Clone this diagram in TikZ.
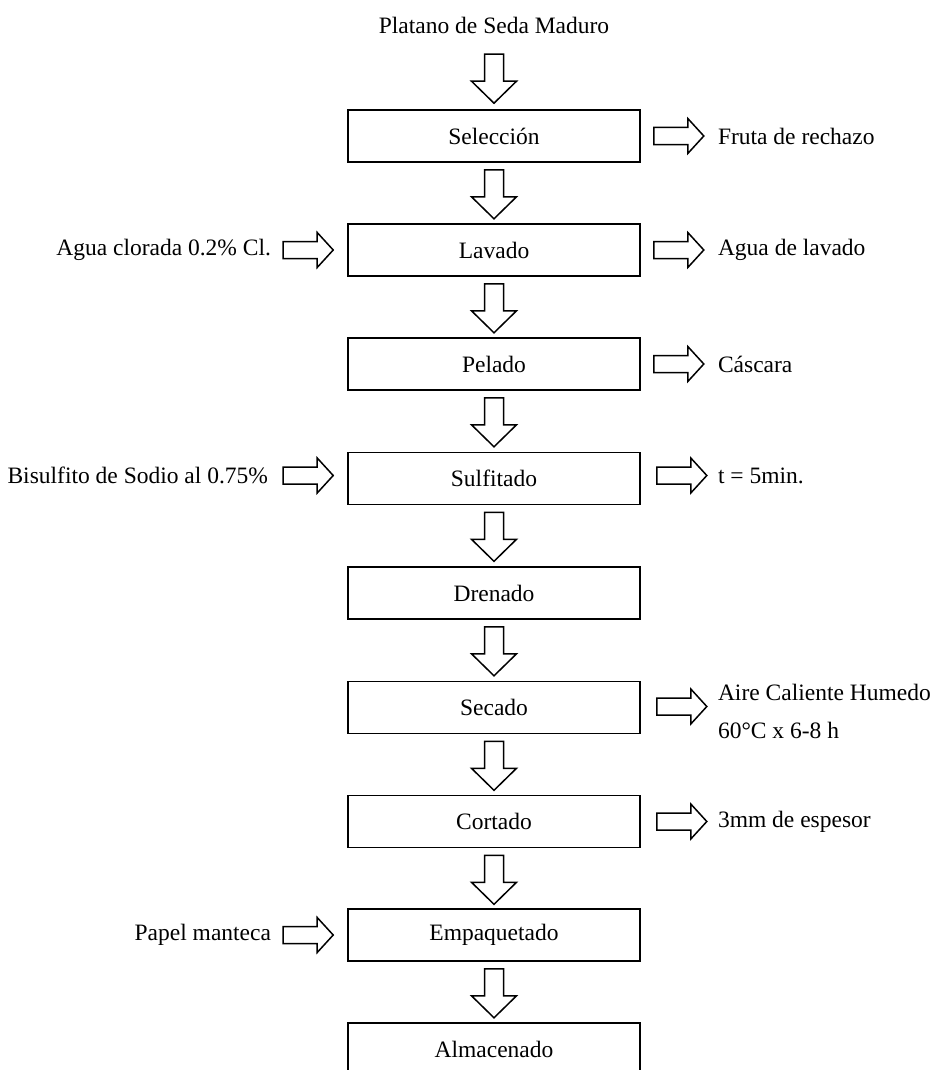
\documentclass[tikz,border=0pt]{standalone}
\usepackage{fontspec}
\setmainfont{Liberation Serif}
\usetikzlibrary{calc}
\begin{document}
\begin{tikzpicture}[x=1pt,y=-1pt,
  stepbox/.style={draw,line width=1.6pt,minimum width=292pt,minimum height=52pt,inner sep=0pt,font=\fontsize{23.5}{28}\selectfont},
  lbl/.style={inner sep=0pt,font=\fontsize{23.5}{28}\selectfont},
  blk/.style={draw,line width=1.5pt,fill=white,line join=miter},
  downarr/.pic={\draw[blk] (-9.5,0) -- (-9.5,27) -- (-22.5,27) -- (0,49) -- (22.5,27) -- (9.5,27) -- (9.5,0) -- cycle;},
  rightarr/.pic={\draw[blk] (0,-8.5) -- (34,-8.5) -- (34,-17.5) -- (50,0) -- (34,17.5) -- (34,8.5) -- (0,8.5) -- cycle;}]
\useasboundingbox (0,0) rectangle (931,1070);
\clip (0,0) rectangle (931,1070);

\node[lbl] (title) at (494,25) {Platano de Seda Maduro};
\node[stepbox] (sel) at (494,136) {Selección};
\node[stepbox] (lav) at (494,250) {Lavado};
\node[stepbox] (pel) at (494,364) {Pelado};
\node[stepbox] (sul) at (494,478.5) {Sulfitado};
\node[stepbox] (dre) at (494,593) {Drenado};
\node[stepbox] (sec) at (494,707.5) {Secado};
\node[stepbox] (cor) at (494,821.5) {Cortado};
\node[stepbox] (emp) at (494,935) {Empaquetado};
\node[stepbox] (alm) at (494,1049) {Almacenado};

% down arrows
\pic at ($(sel.north)+(0,-55)$) {downarr};
\pic at ($(sel.south)+(0,7)$) {downarr};
\pic at ($(lav.south)+(0,7)$) {downarr};
\pic at ($(pel.south)+(0,7)$) {downarr};
\pic at ($(sul.south)+(0,7)$) {downarr};
\pic at ($(dre.south)+(0,7)$) {downarr};
\pic at ($(sec.south)+(0,7)$) {downarr};
\pic at ($(cor.south)+(0,7)$) {downarr};
\pic at ($(emp.south)+(0,7)$) {downarr};

% right outputs
\pic at ($(sel.east)+(13,0)$) {rightarr};
\node[lbl,anchor=west] (fruta) at ($(sel.east)+(77,0)$) {Fruta de rechazo};
\pic at ($(lav.east)+(13,0)$) {rightarr};
\node[lbl,anchor=west] (aguaout) at ($(lav.east)+(77,0)$) {Agua de lavado};
\pic at ($(pel.east)+(13,0)$) {rightarr};
\node[lbl,anchor=west] (cascara) at ($(pel.east)+(77,0)$) {Cáscara};
\pic at ($(sul.east)+(16,-3)$) {rightarr};
\node[lbl,anchor=west] (tiempo) at ($(sul.east)+(77,-3)$) {t = 5min.};
\pic at ($(sec.east)+(16,-1)$) {rightarr};
\node[lbl,anchor=west,align=left] (aire) at ($(sec.east)+(77,4)$) {Aire Caliente Humedo\\[10pt]60°C x 6-8 h};
\pic at ($(cor.east)+(16,0)$) {rightarr};
\node[lbl,anchor=west] (espesor) at ($(cor.east)+(77,0)$) {3mm de espesor};

% left inputs
\pic at ($(lav.west)+(-64,0)$) {rightarr};
\node[lbl,anchor=east] (cloro) at ($(lav.west)+(-76,0)$) {Agua clorada 0.2\% Cl.};
\pic at ($(sul.west)+(-64,-3)$) {rightarr};
\node[lbl,anchor=east] (bisulf) at ($(sul.west)+(-79,-3)$) {Bisulfito de Sodio al 0.75\%};
\pic at ($(emp.west)+(-64,0)$) {rightarr};
\node[lbl,anchor=east] (papel) at ($(emp.west)+(-76,0)$) {Papel manteca};
\end{tikzpicture}
\end{document}
